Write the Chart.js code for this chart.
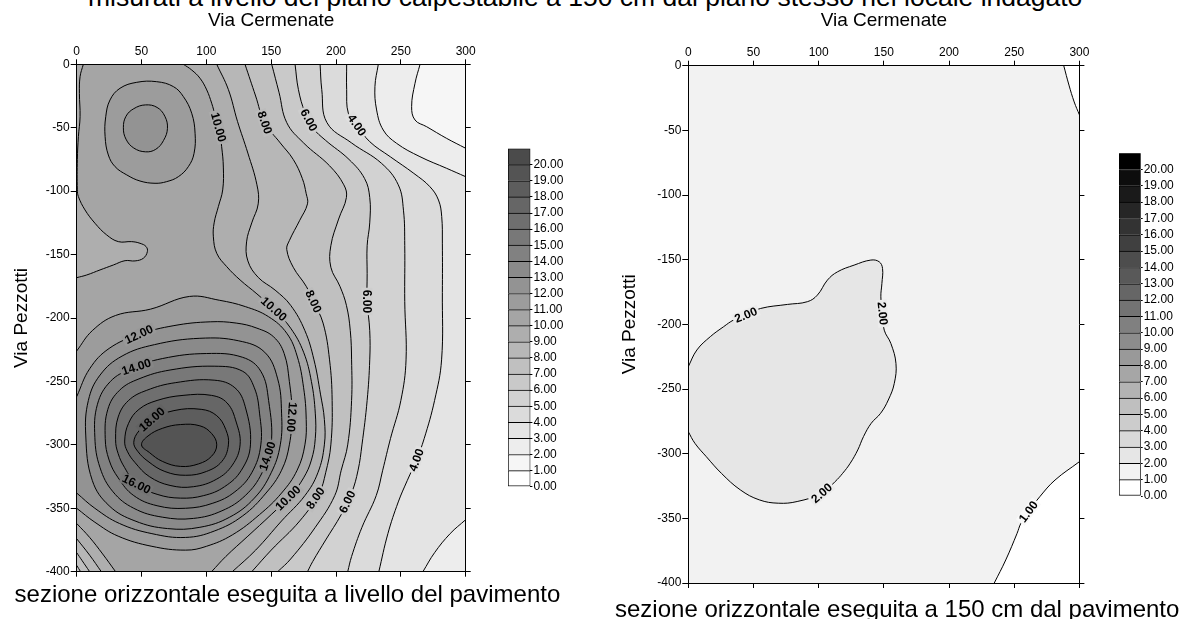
<!DOCTYPE html>
<html lang="it">
<head>
<meta charset="utf-8">
<title>Sezioni orizzontali</title>
<script src="https://cdn.jsdelivr.net/npm/chart.js@4.4.1/dist/chart.umd.min.js"></script>
<style>
html,body{margin:0;padding:0;background:#fff;}
body{position:relative;width:1191px;height:619px;overflow:hidden;font-family:"Liberation Sans",Arial,Helvetica,sans-serif;color:#000;}
canvas{position:absolute;display:block;}
.t{position:absolute;white-space:nowrap;margin:0;}
</style>
</head>
<body>
<div class="t" style="left:88px;top:-16.4px;font-size:26.5px;line-height:26.5px;">misurati a livello del piano calpestabile a 150 cm dal piano stesso nel locale indagato</div>
<canvas id="mapL" width="500" height="619" style="left:0;top:0"></canvas>
<canvas id="legL" width="72" height="360" style="left:508px;top:140px"></canvas>
<canvas id="mapR" width="500" height="619" style="left:600px;top:0"></canvas>
<canvas id="legR" width="72" height="360" style="left:1119px;top:145px"></canvas>
<div class="t" style="left:14.6px;top:581.7px;font-size:24px;line-height:24px;">sezione orizzontale eseguita a livello del pavimento</div>
<div class="t" style="left:615px;top:596.7px;font-size:24px;line-height:24px;">sezione orizzontale eseguita a 150 cm dal pavimento</div>
<script>
// ---------------- axes / legend data ----------------
const xTicks = [0, 50, 100, 150, 200, 250, 300];
const yTicks = [0, -50, -100, -150, -200, -250, -300, -350, -400];
const legendLevels = [0,1,2,3,4,5,6,7,8,9,10,11,12,13,14,15,16,17,18,19,20];

// ---------------- left map: contour lines [x, y] ----------------
const L2  = [[264.8,0],[260.9,-15],[258.3,-33.4],[260.9,-43.9],[269.9,-49.2],[285.3,-58.4],[300,-66.2]];
const L3a = [[232.6,0],[230,-17.6],[231.3,-36],[236.4,-51.8],[246.7,-62.3],[264.7,-72.8],[285.3,-82],[300,-88.6]];
const L3b = [[300,-359],[288,-370],[276,-385],[267,-400]];
const L4  = [[208.2,0],[208.2,-20],[209.5,-38.6],[216,-48],[226,-61],[242,-73],[260,-86],[272.4,-96.5],[279,-107],[281.5,-120],[282,-141],[282,-180],[281.4,-233],[276,-265],[268,-295],[262,-312],[255,-328],[248,-345],[240,-370],[233,-400]];
const L5  = [[187.7,0],[189,-20],[193,-46],[212,-62],[235,-78],[248,-95],[252,-115],[253,-143],[253,-187],[254,-233],[250,-265],[242,-295],[236,-320],[231,-340],[220,-365],[212,-388],[209,-400]];
const L6  = [[168.4,0],[171,-20],[176,-38],[182,-50],[192,-60],[210,-75],[222,-90],[226,-105],[226,-125],[224,-143],[224,-165],[224,-187],[226,-210],[226,-233],[224,-265],[220,-300],[217,-320],[212,-338],[204,-355],[192,-375],[182,-392],[178,-400]];
const L7  = [[150.4,0],[156,-22],[162,-46],[175,-62],[195,-80],[206,-95],[208,-105],[202,-122],[196,-143],[196,-160],[203,-175],[208,-190],[211,-210],[212,-233],[212,-265],[209,-300],[204,-320],[199,-340],[184,-365],[165,-390],[155,-400]];
const L7b = [[3,-400],[0,-395]];
const L8  = [[129.8,0],[138,-25],[145,-46],[157,-62],[167,-75],[174,-90],[177,-102],[178,-110],[172,-123],[164,-139],[162,-146],[167,-160],[177,-175],[182.5,-187],[190,-204],[195,-233],[197,-265],[196,-300],[192,-322],[187,-338],[172,-360],[150,-383],[135,-400]];
const L8b = [[10,-400],[4,-391],[0,-385]];
const L9  = [[108,0],[117,-20],[124,-45],[132,-70],[139,-95],[140,-110],[135,-125],[131,-140],[132,-155],[140,-168],[153,-178],[165,-190],[176,-210],[183,-233],[188,-260],[191,-280],[191,-300],[186,-322],[176,-340],[158,-360],[138,-383],[120,-400]];
const L9b = [[19,-400],[10,-387],[0,-374]];
const L10a = [[5.1,0],[2.6,-9.7],[2.1,-22.9],[2.6,-41.3],[1.3,-57],[0.5,-75],[0.5,-99],[1.3,-104.3],[6.4,-114.8],[14.1,-125.3],[23.1,-134.5],[32.1,-139.8],[42.4,-139.8],[48.8,-141.1],[53.5,-143.7],[54.5,-147.7],[51.4,-152.9],[45,-155],[37.3,-154.8],[28.3,-158.2],[18,-162.1],[7.7,-166.1],[0,-168.2]];
const L10b = [[82.3,0],[88.7,-4.5],[95.1,-11],[100.3,-20.2],[104.1,-30.7],[106.7,-40],[110,-52],[111.8,-65],[113.1,-81],[112.6,-99],[109.3,-112],[106,-125],[105.4,-136],[108,-149],[115.7,-159.5],[126,-170],[139,-181],[152,-193],[165,-208],[175,-227],[181,-250],[184,-275],[184,-295],[181,-312],[175,-326],[165,-340],[150,-355],[132,-372],[115,-388],[104,-400]];
const L10c = [[30,-400],[20,-386],[10,-373],[0,-362]];
const L11 = [[0,-226],[12,-210],[30,-198],[57,-193],[87,-183],[110,-186],[130,-191],[148,-199],[162,-212],[170,-230],[175,-255],[177,-280],[176,-300],[170,-320],[158,-338],[141,-355],[120,-371],[100,-380],[84,-383],[58,-380],[32,-372],[14,-361],[0,-350]];
const L12 = [[0,-262],[10,-240],[25,-224],[48,-213],[75,-206],[103,-203],[123,-204],[139,-208],[152,-215],[160,-228],[164,-250],[166,-275],[164,-300],[158,-320],[146,-338],[128,-356],[106,-368],[84,-373],[58,-370],[33,-362],[14,-350],[0,-338]];
// closed rings
const R11a = [[61.7,-13.7],[74.6,-17.6],[82.3,-25.5],[88.7,-38.6],[91.3,-54.4],[90.5,-70.2],[86.1,-80.7],[78.4,-88.6],[69.4,-92.5],[60.4,-93.8],[48.8,-92],[38.6,-87.2],[29.6,-80.7],[24.4,-71.5],[21.9,-57],[22.4,-41.3],[25.7,-28.1],[33.4,-18.9],[46.3,-14.2]];
const R12a = [[53,-32],[62,-34],[68,-41],[70,-50.5],[67,-60],[61,-67],[53,-69],[44,-66],[38,-59],[36,-50],[38,-41],[44,-35]];
const R13 = [[7,-293],[9,-265],[18,-245],[35,-230],[60,-221],[95,-216],[125,-218],[145,-227],[155,-248],[158,-275],[157,-300],[150,-322],[137,-342],[118,-357],[95,-365],[70,-366],[45,-360],[25,-348],[12,-328]];
const R14 = [[14,-294],[16,-268],[26,-250],[42,-240],[66,-232],[100,-228],[128,-231],[142,-242],[148,-265],[150,-300],[143,-322],[130,-340],[112,-352],[90,-358],[66,-357],[44,-350],[28,-337],[18,-318]];
const R15 = [[22,-295],[24,-272],[33,-257],[48,-248],[72,-241],[106,-238],[128,-242],[137,-255],[141,-275],[142,-300],[135,-322],[122,-337],[105,-346],[84,-350],[62,-348],[44,-340],[32,-326],[25,-312]];
const R16 = [[30,-296],[32,-278],[40,-265],[54,-257],[76,-251],[106,-249],[122,-255],[130,-270],[134,-300],[127,-320],[114,-333],[98,-340],[80,-342],[62,-339],[46,-331],[37,-318],[32,-307]];
const R17 = [[37,-297],[40,-283],[48,-272],[62,-265],[82,-261],[104,-261],[116,-267],[123,-282],[126,-300],[120,-316],[108,-327],[90,-333],[72,-332],[56,-325],[45,-314],[39,-305]];
const R18 = [[44,-298],[48,-289],[58,-280],[75,-273],[96,-272],[108,-277],[115,-288],[117,-300],[112,-313],[100,-321],[84,-324],[68,-321],[55,-313],[47,-305]];
const R19 = [[50,-300],[55,-293],[66,-287],[80,-284],[95,-285],[104,-291],[108,-300],[104,-309],[94,-315],[80,-317],[66,-313],[56,-306]];
// contour labels [level, x, y]
const leftLabels = [[10,108,-50],[8,145,-46],[6,179,-44],[4,216,-48],[10,152,-193],[8,182.5,-187],[6,224,-187],[12,48,-213],[14,46,-238.5],[18,58,-280],[12,166,-278],[14,147.5,-309],[16,46,-331],[10,163,-342],[8,184,-342],[6,209,-345],[4,262,-312]];

// ---------------- right map ----------------
const R1a = [[288,0],[292,-15],[296,-28],[300,-38]];
const R1b = [[300,-306.2],[281.3,-320.4],[269.6,-333.3],[260.9,-344.9],[255.1,-353.9],[252.2,-361.6],[243.5,-382.2],[234.7,-400]];
const R2  = [[0,-232.7],[6.6,-219.8],[16.9,-209.5],[27.1,-201.8],[34.8,-196.6],[44.2,-192.8],[55.5,-187.7],[76,-184.6],[91.3,-182.5],[99,-177.4],[106.7,-165.8],[114.4,-159.4],[127.2,-154.2],[140,-150.3],[146.4,-151.6],[149,-156.8],[148.5,-168.4],[147.7,-178.7],[149,-191.6],[150.3,-204.5],[155.4,-214.8],[159.3,-230.3],[158,-245.7],[153.4,-258.5],[147.5,-268.8],[140.3,-276.5],[134.4,-286.8],[130,-297.1],[124.2,-307.4],[118.4,-315.2],[112.6,-321.6],[102.4,-330.6],[83.5,-337],[69,-338.3],[54.4,-335.7],[39.9,-328],[25.4,-315.2],[13.8,-302.3],[5.1,-292],[0,-283]];
const rightLabels = [[2,44.2,-192.8],[2,149,-191.6],[2,102.4,-330.6],[1,260.9,-344.9]];

// ---------------- helpers ----------------
Chart.defaults.font.family = '"Liberation Sans", Arial, Helvetica, sans-serif';
Chart.defaults.font.size = 12;
Chart.defaults.color = '#000';

function gray(v){ const g = Math.max(0, Math.min(255, Math.round(v))); return 'rgb(' + g + ',' + g + ',' + g + ')'; }
const leftShade = k => gray(255 - 9 * k);
const rightShade = k => gray(255 - 12.75 * k);

const XMAX = 300, YMIN = -400, M = 8;
function edgeOf(p){
  const d = [Math.abs(p[1]), Math.abs(p[0] - XMAX), Math.abs(p[1] - YMIN), Math.abs(p[0])];
  let e = 0; for (let i = 1; i < 4; i++) if (d[i] < d[e]) e = i; return e;
}
function perim(p){
  const e = edgeOf(p);
  if (e === 0) return p[0];
  if (e === 1) return 300 - p[1];
  if (e === 2) return 700 + (300 - p[0]);
  return 1000 + (400 + p[1]);
}
function outward(p){
  const e = edgeOf(p);
  if (e === 0) return [p[0], M];
  if (e === 1) return [XMAX + M, p[1]];
  if (e === 2) return [p[0], YMIN - M];
  return [-M, p[1]];
}
const CORNERS = [[0,[-M,M]],[300,[XMAX+M,M]],[700,[XMAX+M,YMIN-M]],[1000,[-M,YMIN-M]]];
function walk(a, b){
  const tA = perim(a); let tB = perim(b); if (tB <= tA) tB += 1400;
  const out = [outward(a)];
  for (const base of [0, 1400, 2800]) for (const [t, c] of CORNERS) { const tt = t + base; if (tt > tA && tt < tB) out.push(c); }
  out.push(outward(b));
  return out;
}
function chainPolygon(parts){
  const poly = [];
  for (let i = 0; i < parts.length; i++) {
    const part = parts[i], next = parts[(i + 1) % parts.length];
    poly.push(...part);
    poly.push(...walk(part[part.length - 1], next[0]));
  }
  return poly;
}
const toXY = pts => pts.map(p => ({x: p[0], y: p[1]}));
function fillSet(poly, lev, shade){
  return {data: toXY(poly), closed: true, fill: 'shape', backgroundColor: shade(lev), borderColor: 'transparent', borderWidth: 0,
          pointRadius: 0, pointHitRadius: 0, tension: 0.4, order: 100 - lev, xAxisID: 'x', yAxisID: 'y'};
}
function lineSet(pts, closed){
  return {data: toXY(pts), closed: closed, fill: false, borderColor: '#000', borderWidth: 1, pointRadius: 0, pointHitRadius: 0,
          tension: 0.4, order: 0, xAxisID: 'x', yAxisID: 'y'};
}
const loopPlugin = {
  id: 'loopLines',
  afterDatasetUpdate(chart, args){
    const ds = chart.data.datasets[args.index];
    if (ds && ds.closed && args.meta.dataset) {
      const line = args.meta.dataset;
      line._loop = true; line._fullLoop = true; line._pointsUpdated = false;
      delete line._segments; delete line._path;
    }
  }
};
function basePlugin(color){
  return { id: 'baseFill', beforeDatasetsDraw(chart){
    const {ctx, chartArea: a} = chart; ctx.save(); ctx.fillStyle = color;
    ctx.fillRect(a.left, a.top, a.right - a.left, a.bottom - a.top); ctx.restore();
  }};
}
function labelPlugin(o){
  return { id: 'contourLabels', afterDatasetsDraw(chart){
    const {ctx} = chart; const xs = chart.scales.x, ys = chart.scales.y;
    const P = p => [xs.getPixelForValue(p[0]), ys.getPixelForValue(p[1])];
    ctx.save();
    ctx.font = 'bold 12px "Liberation Sans", Arial, sans-serif';
    ctx.textAlign = 'center'; ctx.textBaseline = 'middle';
    for (const [lev, lx, ly] of o.labels) {
      const q = P([lx, ly]);
      const cands = o.lines.filter(l => l[0] === lev).map(l => [l[1], false])
        .concat(o.rings.filter(r => r[0] === lev).map(r => [r[1], true]));
      let best = null, bd = Infinity;
      for (const [pts, closed] of cands) {
        const n = pts.length, m = closed ? n : n - 1;
        for (let i = 0; i < m; i++) {
          const a = P(pts[i]), b = P(pts[(i + 1) % n]);
          const dx = b[0] - a[0], dy = b[1] - a[1]; const L = dx * dx + dy * dy || 1;
          let t = ((q[0] - a[0]) * dx + (q[1] - a[1]) * dy) / L; t = Math.max(0, Math.min(1, t));
          const cx = a[0] + t * dx, cy = a[1] + t * dy; const d = (cx - q[0]) ** 2 + (cy - q[1]) ** 2;
          if (d < bd) { bd = d; best = {cx, cy, dx, dy}; }
        }
      }
      if (!best) continue;
      let ang = Math.atan2(best.dy, best.dx);
      while (ang > Math.PI / 2 + 0.2) ang -= Math.PI;
      while (ang <= -Math.PI / 2 + 0.2) ang += Math.PI;
      const txt = lev.toFixed(2); const w = ctx.measureText(txt).width;
      ctx.save(); ctx.translate(best.cx, best.cy); ctx.rotate(ang);
      ctx.fillStyle = o.shade(lev - 0.5);
      ctx.fillRect(-w / 2 - 2, -5.5, w + 4, 11);
      ctx.fillStyle = '#000';
      ctx.fillText(txt, 0, 0.5);
      ctx.restore();
    }
    ctx.restore();
  }};
}

function makeMap(id, o){
  const datasets = [];
  for (const [lev, parts] of o.fills) datasets.push(fillSet(chainPolygon(parts), lev, o.shade));
  for (const [lev, ring] of o.rings) datasets.push(fillSet(ring, lev, o.shade));
  for (const [lev, pts] of o.lines) datasets.push(lineSet(pts, false));
  for (const [lev, ring] of o.rings) datasets.push(lineSet(ring, true));
  const gridOpt = tl => ({drawOnChartArea: false, drawTicks: true, tickLength: tl, color: '#000', lineWidth: 1});
  const borderOpt = {display: true, color: '#000', width: 1, z: 1};
  new Chart(document.getElementById(id), {
    type: 'line',
    data: {datasets},
    options: {
      responsive: false, animation: false, events: [], devicePixelRatio: 1,
      layout: {padding: 0},
      plugins: {legend: {display: false}, tooltip: {enabled: false}},
      scales: {
        x: {type: 'linear', position: 'top', min: 0, max: 300,
            afterBuildTicks: s => { s.ticks = xTicks.map(v => ({value: v})); },
            ticks: {font: {size: 12}, color: '#000', padding: o.tickPadTop, maxRotation: 0, autoSkip: false},
            grid: gridOpt(5), border: borderOpt,
            title: {display: true, text: 'Via Cermenate', font: {size: 19}, color: '#000', padding: {top: 9.6, bottom: 0}},
            afterFit: s => { s.height = o.area.top; }},
        x2: {type: 'linear', position: 'bottom', min: 0, max: 300,
            afterBuildTicks: s => { s.ticks = xTicks.map(v => ({value: v})); },
            ticks: {display: false}, grid: gridOpt(5), border: borderOpt,
            afterFit: s => { s.height = o.h - o.area.bottom; }},
        y: {type: 'linear', position: 'left', min: -400, max: 0,
            afterBuildTicks: s => { s.ticks = yTicks.map(v => ({value: v})); },
            ticks: {font: {size: 12}, color: '#000', padding: 1, autoSkip: false},
            grid: gridOpt(6), border: borderOpt,
            title: {display: true, text: 'Via Pezzotti', font: {size: 19}, color: '#000', padding: {top: o.yTitlePad, bottom: 0}},
            afterFit: s => { s.width = o.area.left; }},
        y2: {type: 'linear', position: 'right', min: -400, max: 0,
            afterBuildTicks: s => { s.ticks = yTicks.map(v => ({value: v})); },
            ticks: {display: false}, grid: gridOpt(5), border: borderOpt,
            afterFit: s => { s.width = o.w - o.area.right; }}
      }
    },
    plugins: [loopPlugin, basePlugin(o.base), labelPlugin(o)]
  });
}

function makeLegend(id, shade, o){
  new Chart(document.getElementById(id), {
    type: 'bar',
    data: {labels: [''], datasets: legendLevels.map(k => ({
      data: [1], backgroundColor: shade(k), borderColor: '#000',
      borderWidth: {top: 1, left: 1, right: 1, bottom: k === 0 ? 1 : 0}, borderSkipped: false,
      barPercentage: 1, categoryPercentage: 1}))},
    options: {
      responsive: false, animation: false, events: [], devicePixelRatio: 1,
      layout: {padding: {top: o.top, bottom: o.bottom, left: 0, right: 0}},
      plugins: {legend: {display: false}, tooltip: {enabled: false}},
      scales: {
        x: {display: false, stacked: true},
        y: {stacked: true, position: 'right', min: 0, max: 21,
            afterBuildTicks: s => { s.ticks = legendLevels.map(v => ({value: v})); },
            ticks: {callback: v => Number(v).toFixed(2), font: {size: 12}, color: '#000', padding: 1, autoSkip: false},
            grid: {drawOnChartArea: false, tickLength: 2, color: '#000'},
            border: {display: false},
            afterFit: s => { s.width = o.axisW; }}
      }
    }
  });
}

// ---------------- build ----------------
const leftFills = [
  [2, [L2]], [3, [L3a, L3b]], [4, [L4]], [5, [L5]], [6, [L6]], [7, [L7, L7b]], [8, [L8, L8b]], [9, [L9, L9b]],
  [10, [L10b, L10c, L10a.slice().reverse()]], [11, [L11]], [12, [L12]]
];
const leftRings = [[11, R11a], [12, R12a], [13, R13], [14, R14], [15, R15], [16, R16], [17, R17], [18, R18], [19, R19]];
const leftLines = [[2, L2], [3, L3a], [3, L3b], [4, L4], [5, L5], [6, L6], [7, L7], [7, L7b], [8, L8], [8, L8b],
  [9, L9], [9, L9b], [10, L10a], [10, L10b], [10, L10c], [11, L11], [12, L12]];

makeMap('mapL', {
  fills: leftFills, rings: leftRings, lines: leftLines, labels: leftLabels, shade: leftShade, base: leftShade(1),
  area: {left: 76.7, top: 64.3, right: 465.7, bottom: 571.7}, w: 500, h: 619, yTitlePad: 10.6, tickPadTop: 0
});
makeMap('mapR', {
  fills: [[1, [R1a, R1b]], [2, [R2]]], rings: [], lines: [[1, R1a], [1, R1b], [2, R2]], labels: rightLabels,
  shade: rightShade, base: rightShade(0),
  area: {left: 88.3, top: 65.7, right: 479.4, bottom: 583}, w: 500, h: 619, yTitlePad: 18.6, tickPadTop: 1
});
makeLegend('legL', leftShade, {top: 8.6, bottom: 13.3, axisW: 49.6});
makeLegend('legR', rightShade, {top: 8, bottom: 9, axisW: 50.3});
</script>
</body>
</html>
